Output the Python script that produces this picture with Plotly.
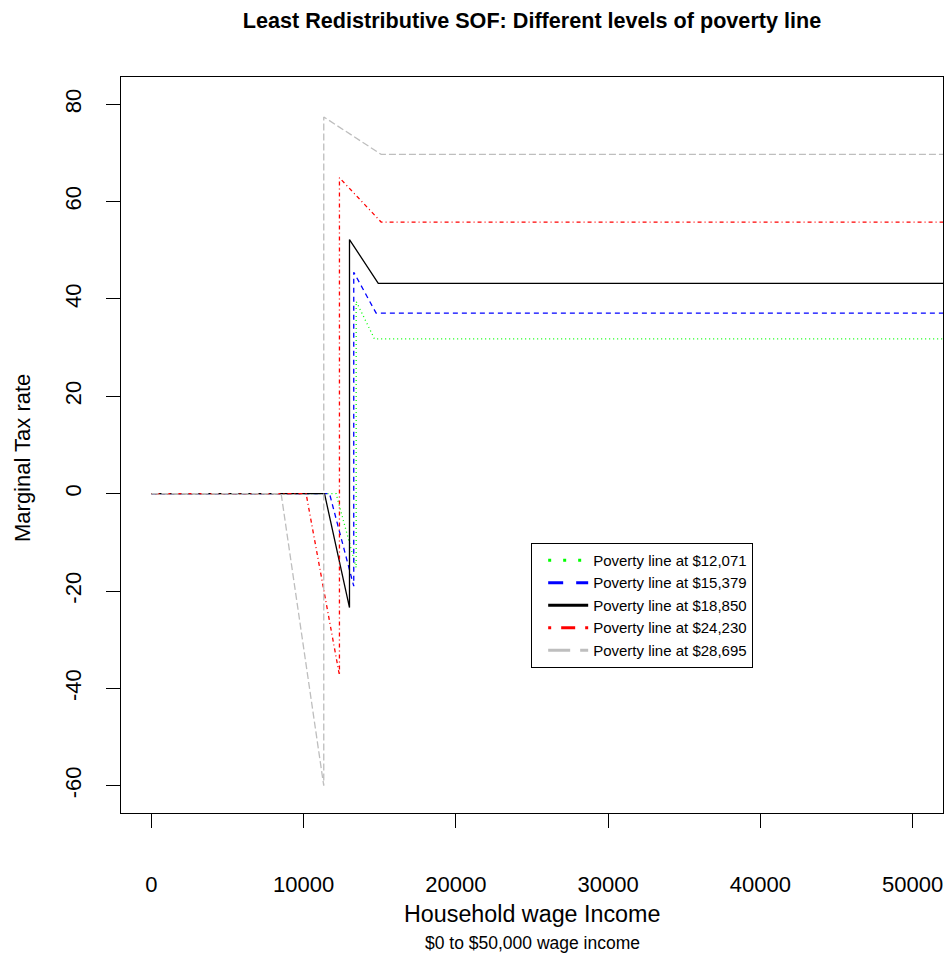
import plotly.graph_objects as go

# Marginal tax rate schedules (percent) by household wage income, one per poverty line
poverty_lines = ["$12,071", "$15,379", "$18,850", "$24,230", "$28,695"]

income_12071 = [0, 12130, 13450, 13450, 14650, 52000]
rate_12071 = [0, 0, -15.2, 39.5, 31.8, 31.8]

income_15379 = [0, 11700, 13290, 13290, 14760, 52000]
rate_15379 = [0, 0, -19.0, 45.5, 37.1, 37.1]

income_18850 = [0, 11370, 13010, 13010, 14900, 52000]
rate_18850 = [0, 0, -23.4, 52.2, 43.2, 43.2]

income_24230 = [0, 10160, 12350, 12350, 15090, 52000]
rate_24230 = [0, 0, -37.3, 64.9, 55.8, 55.8]

income_28695 = [0, 8520, 11320, 11320, 15090, 52000]
rate_28695 = [0, 0, -60.0, 77.4, 69.7, 69.7]

x_ticks = [0, 10000, 20000, 30000, 40000, 50000]
x_tick_labels = ["0", "10000", "20000", "30000", "40000", "50000"]
y_ticks = [-60, -40, -20, 0, 20, 40, 60, 80]
y_tick_labels = ["-60", "-40", "-20", "0", "20", "40", "60", "80"]

series = [
    (income_12071, rate_12071, "#00FF00", "1px,3px", "3px,12px"),
    (income_15379, rate_15379, "#0000FF", "5px,4px", "15px,13px"),
    (income_18850, rate_18850, "#000000", "solid", "solid"),
    (income_24230, rate_24230, "#FF0000", "1px,3px,4px,3px", "3px,10px,14px,10px"),
    (income_28695, rate_28695, "#BEBEBE", "7px,3px", "22px,10px"),
]

FONT = "Liberation Sans, Arial, Helvetica, sans-serif"

fig = go.Figure()

for (xs, ys, color, dash, _), label in zip(series, poverty_lines):
    fig.add_trace(go.Scatter(
        x=xs, y=ys, mode="lines",
        line=dict(color=color, width=1.3, dash=dash),
        showlegend=False, hoverinfo="skip", cliponaxis=True,
    ))

# Legend entries drawn with heavier sample lines
for (_, _, color, _, leg_dash), label in zip(series, poverty_lines):
    fig.add_trace(go.Scatter(
        x=[None], y=[None], mode="lines",
        line=dict(color=color, width=3, dash=leg_dash),
        name=f"Poverty line at {label}",
    ))

fig.update_layout(
    width=950, height=958,
    margin=dict(l=121, r=7, t=77, b=145),
    paper_bgcolor="white", plot_bgcolor="white",
    font=dict(family=FONT, color="black"),
    title=dict(
        text="<b>Least Redistributive SOF: Different levels of poverty line</b>",
        x=0.5, xref="paper", xanchor="center",
        y=1 - 20 / 958, yref="container", yanchor="middle",
        font=dict(size=21.6, family=FONT, color="black"),
    ),
    showlegend=True,
    legend=dict(
        x=0.499, y=0.367, xanchor="left", yanchor="top",
        bordercolor="black", borderwidth=1, bgcolor="white",
        font=dict(size=15, family=FONT, color="black"),
        traceorder="normal", tracegroupgap=0,
        indentation=11, itemwidth=40,
    ),
    xaxis=dict(
        range=[-2000, 52000], tickvals=x_ticks, ticktext=x_tick_labels,
        showgrid=False, zeroline=False,
        showline=True, mirror=True, linecolor="black", linewidth=1,
        ticks="outside", ticklen=14, tickcolor="black", tickwidth=1,
        ticklabelstandoff=38,
        tickfont=dict(size=22, family=FONT, color="black"),
    ),
    yaxis=dict(
        range=[-65.6, 85.6], tickvals=y_ticks, ticktext=y_tick_labels,
        showgrid=False, zeroline=False,
        showline=True, mirror=True, linecolor="black", linewidth=1,
        ticks="outside", ticklen=14, tickcolor="black", tickwidth=1,
        tickangle=-90, ticklabelstandoff=16,
        tickfont=dict(size=22, family=FONT, color="black"),
    ),
    annotations=[
        dict(text="Household wage Income", xref="paper", yref="paper",
             x=0.5, y=(813 - 914) / 736, xanchor="center", yanchor="middle",
             showarrow=False, font=dict(size=23.3, family=FONT, color="black")),
        dict(text="$0 to $50,000 wage income", xref="paper", yref="paper",
             x=0.5, y=(813 - 943) / 736, xanchor="center", yanchor="middle",
             showarrow=False, font=dict(size=17.5, family=FONT, color="black")),
        dict(text="Marginal Tax rate", xref="paper", yref="paper",
             x=(22 - 121) / 822, y=(813 - 458) / 736, xanchor="center", yanchor="middle",
             textangle=-90, showarrow=False,
             font=dict(size=22, family=FONT, color="black")),
    ],
)

fig.write_html("out.html")
